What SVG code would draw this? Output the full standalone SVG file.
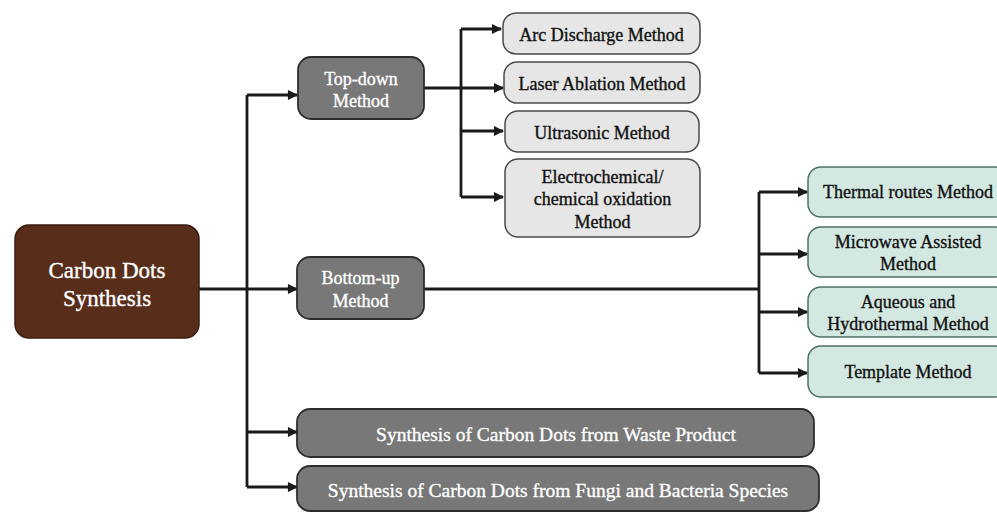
<svg xmlns="http://www.w3.org/2000/svg" width="997" height="512" viewBox="0 0 997 512">
<style>
text{font-family:"Liberation Serif","Times New Roman",serif;text-anchor:middle;stroke-width:0.35px}
.root rect{fill:#582e1b;stroke:#3a1d10;stroke-width:1.5}
.root text{fill:#fff;stroke:#fff;font-size:23px}
.mid rect{fill:#787878;stroke:#2e2e2e;stroke-width:1.8}
.mid text{fill:#fff;stroke:#fff;font-size:18px}
.wide text{font-size:19.5px}
.lg rect{fill:#e6e6e6;stroke:#4a4a4a;stroke-width:1.5}
.lg text{fill:#111;stroke:#111;font-size:18px}
.tl rect{fill:#d4e8e2;stroke:#4f6f68;stroke-width:1.5}
.tl text{fill:#111;stroke:#111;font-size:18px}
.conn path{fill:none;stroke:#1a1a1a;stroke-width:2.8}
</style>
<defs>
<marker id="ah" viewBox="0 0 10 10" refX="9" refY="5" markerWidth="4" markerHeight="3.6" orient="auto" markerUnits="strokeWidth">
<path d="M0,0 L10,5 L0,10 Z" fill="#1a1a1a"/>
</marker>
</defs>
<rect width="997" height="512" fill="#fff"/>
<g class="conn">
<path d="M199,289 H247"/>
<path d="M247,95 V487"/>
<path d="M247,95 H297" marker-end="url(#ah)"/>
<path d="M247,289 H297" marker-end="url(#ah)"/>
<path d="M247,432 H297" marker-end="url(#ah)"/>
<path d="M247,487 H297" marker-end="url(#ah)"/>
<path d="M424,88 H461"/>
<path d="M461,29 V197"/>
<path d="M461,29 H501" marker-end="url(#ah)"/>
<path d="M461,88 H503" marker-end="url(#ah)"/>
<path d="M461,131 H503" marker-end="url(#ah)"/>
<path d="M461,197 H503" marker-end="url(#ah)"/>
<path d="M424,289 H759"/>
<path d="M759,192 V373"/>
<path d="M759,192 H807" marker-end="url(#ah)"/>
<path d="M759,254 H807" marker-end="url(#ah)"/>
<path d="M759,312 H807" marker-end="url(#ah)"/>
<path d="M759,373 H807" marker-end="url(#ah)"/>
</g>
<g id="carbon-dots" class="root">
<rect x="15" y="225" width="184" height="113" rx="14"/>
<text x="107" y="278">Carbon Dots</text>
<text x="107" y="306">Synthesis</text>
</g>
<g id="top-down" class="mid">
<rect x="298" y="57" width="126" height="62" rx="13"/>
<text x="361" y="85">Top-down</text>
<text x="361" y="107">Method</text>
</g>
<g id="bottom-up" class="mid">
<rect x="297" y="257" width="127" height="62" rx="13"/>
<text x="360.5" y="284">Bottom-up</text>
<text x="360.5" y="307">Method</text>
</g>
<g id="waste" class="mid wide">
<rect x="297" y="409" width="517" height="48" rx="13"/>
<text x="556" y="441">Synthesis of Carbon Dots from Waste Product</text>
</g>
<g id="fungi" class="mid wide">
<rect x="297" y="466" width="522" height="45" rx="13"/>
<text x="558" y="497">Synthesis of Carbon Dots from Fungi and Bacteria Species</text>
</g>
<g id="arc" class="lg">
<rect x="503" y="13" width="197" height="41" rx="13"/>
<text x="601.5" y="41">Arc Discharge Method</text>
</g>
<g id="laser" class="lg">
<rect x="504" y="62" width="196" height="41" rx="13"/>
<text x="602" y="90">Laser Ablation Method</text>
</g>
<g id="ultrasonic" class="lg">
<rect x="505" y="111" width="194" height="41" rx="13"/>
<text x="602" y="139">Ultrasonic Method</text>
</g>
<g id="electro" class="lg">
<rect x="505" y="159" width="195" height="78" rx="13"/>
<text x="602.5" y="183">Electrochemical/</text>
<text x="602.5" y="205">chemical oxidation</text>
<text x="602.5" y="228">Method</text>
</g>
<g id="thermal" class="tl">
<rect x="808" y="167" width="200" height="50" rx="13"/>
<text x="908" y="198">Thermal routes Method</text>
</g>
<g id="microwave" class="tl">
<rect x="808" y="227" width="200" height="50" rx="13"/>
<text x="908" y="248">Microwave Assisted</text>
<text x="908" y="270">Method</text>
</g>
<g id="aqueous" class="tl">
<rect x="808" y="287" width="200" height="50" rx="13"/>
<text x="908" y="308">Aqueous and</text>
<text x="908" y="330">Hydrothermal Method</text>
</g>
<g id="template" class="tl">
<rect x="808" y="346" width="200" height="51" rx="13"/>
<text x="908" y="378">Template Method</text>
</g>
</svg>
